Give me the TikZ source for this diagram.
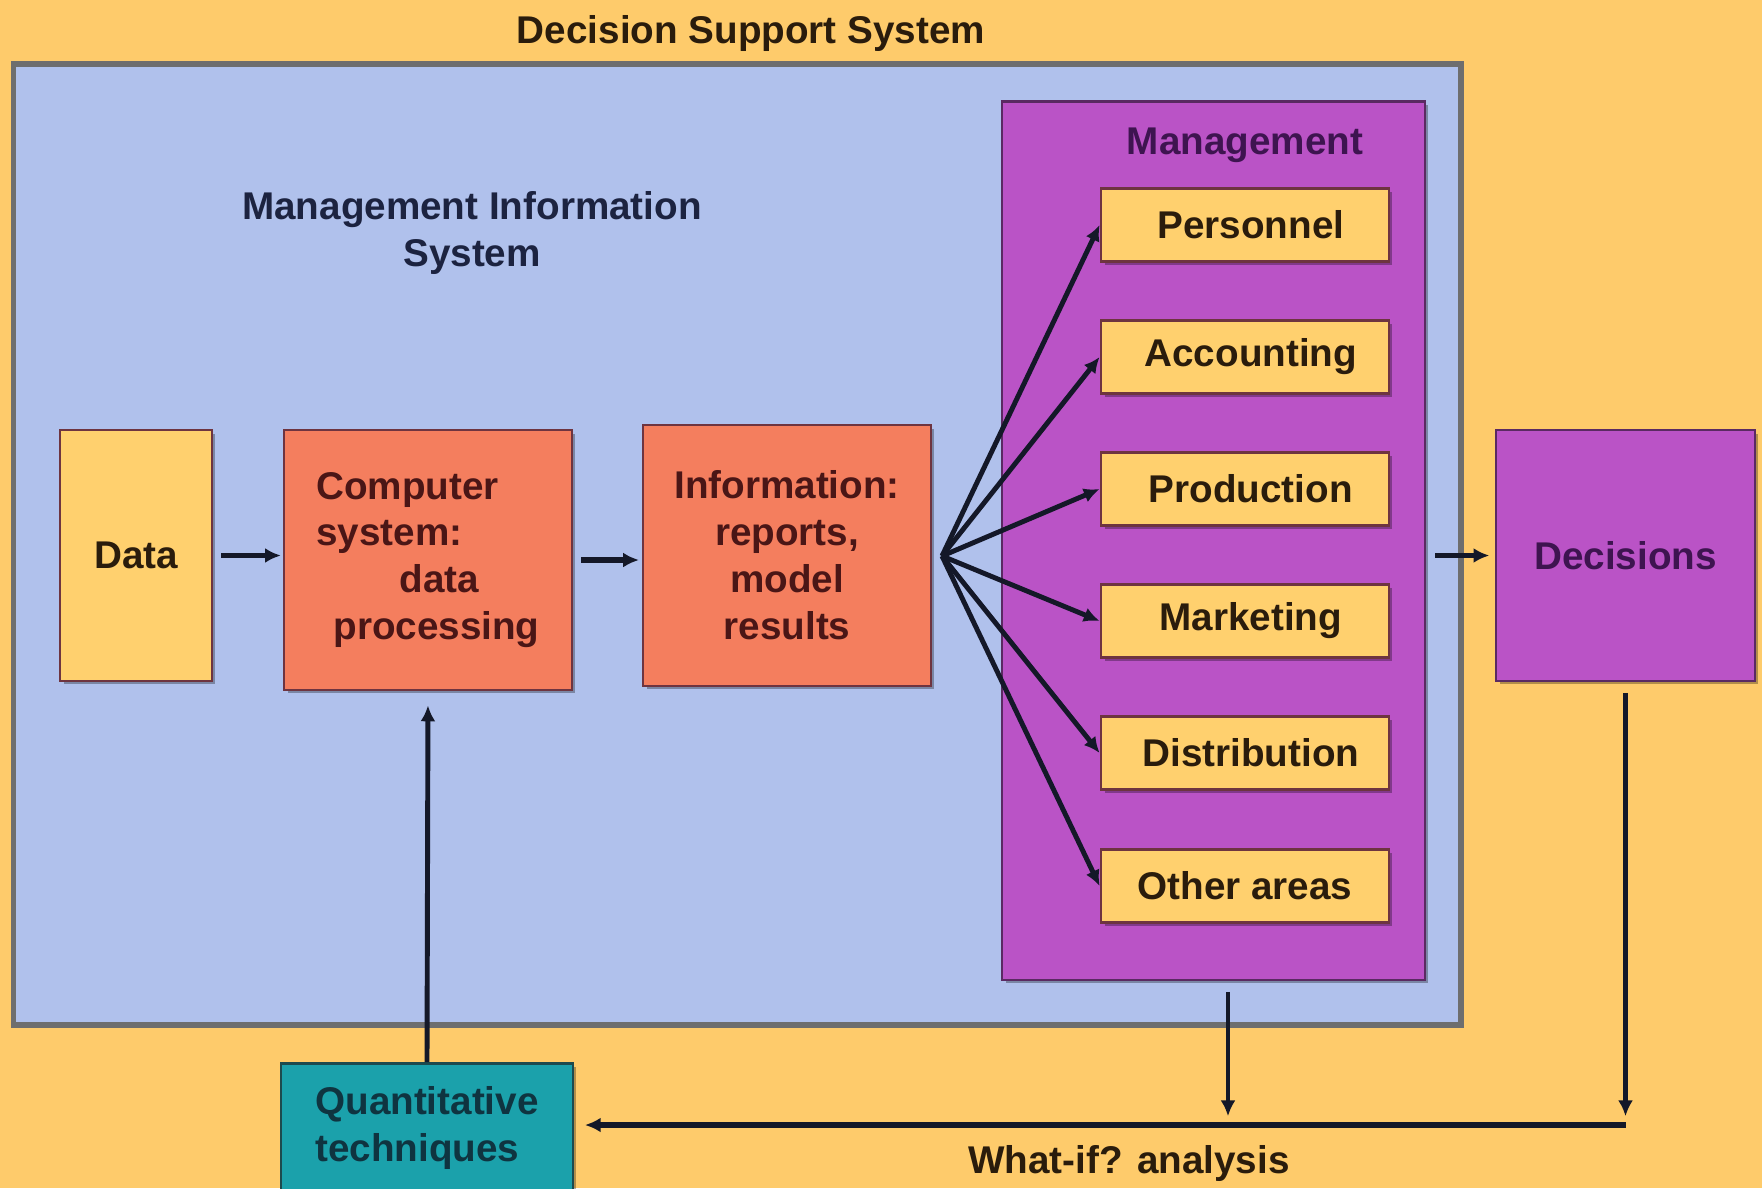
\documentclass[tikz,border=0pt]{standalone}
\usepackage{fontspec}
\setmainfont{Liberation Sans}
\usetikzlibrary{arrows.meta,shadows}
\definecolor{dssorange}{HTML}{FECB6B}
\definecolor{misblue}{HTML}{B0C1EC}
\definecolor{misedge}{HTML}{6E6E6E}
\definecolor{mgmtpurple}{HTML}{BA53C6}
\definecolor{mgmtedge}{HTML}{5A2A62}
\definecolor{boxyellow}{HTML}{FFD06E}
\definecolor{boxedge}{HTML}{6E3440}
\definecolor{boxsalmon}{HTML}{F47E5E}
\definecolor{quantteal}{HTML}{1BA1AB}
\definecolor{tealedge}{HTML}{1D4A4E}
\definecolor{arrowink}{HTML}{141828}
\definecolor{darkink}{HTML}{2A1C0C}
\definecolor{redink}{HTML}{4A1616}
\definecolor{purpleink}{HTML}{3E1450}
\definecolor{navyink}{HTML}{1C2340}
\definecolor{tealink}{HTML}{0F3440}
\begin{document}
\begin{tikzpicture}[x=0.02cm,y=-0.02cm,
    every node/.style={font=\fontsize{22}{26.7}\selectfont\bfseries},
    box/.style={draw=boxedge,line width=1.6pt,inner sep=0pt,
      drop shadow={shadow xshift=0.07cm,shadow yshift=-0.07cm,fill=black,opacity=.3}},
    area/.style={box,fill=boxyellow,text=darkink,minimum width=5.76cm,minimum height=1.46cm},
    link/.style={arrowink,line width=2.8pt,-{Latex[length=9pt,width=8.5pt]}}]
  \fill[dssorange] (0,0) rectangle (1762,1188);
  \useasboundingbox (0,0) rectangle (1762,1188);
  \node[text=darkink] (dss) at (751,33) {Decision Support System};
  \node[box,draw=misedge,line width=3pt,fill=misblue,minimum width=28.96cm,minimum height=19.22cm] (mis) at (737,544.5) {};
  \node[text=navyink,align=center] (mislabel) at (472,233) {Management Information\\System};
  \node[box,draw=mgmtedge,fill=mgmtpurple,minimum width=8.46cm,minimum height=17.58cm] (mgmt) at (1213.5,540.5) {};
  \node[text=purpleink] (mgmtlabel) at (1245,145) {Management};
  \node[area] (pers) at (1245,225) {\hspace*{.3em}Personnel};
  \node[area] (acct) at (1245,357) {\hspace*{.3em}Accounting};
  \node[area] (prod) at (1245,489) {\hspace*{.3em}Production};
  \node[area] (mark) at (1245,621) {\hspace*{.3em}Marketing};
  \node[area] (dist) at (1245,753) {\hspace*{.3em}Distribution};
  \node[area] (other) at (1245,886) {Other areas};
  \node[box,fill=boxyellow,text=darkink,minimum width=3.04cm,minimum height=5.02cm] (data) at (136,555.5) {Data};
  \node[box,fill=boxsalmon,text=redink,align=left,minimum width=5.76cm,minimum height=5.2cm] (comp) at (428,560)
    {Computer\\system:\\\hspace*{2.15em}data\\\hspace*{.44em}processing};
  \node[box,fill=boxsalmon,text=redink,align=center,minimum width=5.76cm,minimum height=5.22cm] (info) at (787,555.5)
    {Information:\\reports,\\model\\results};
  \node[box,draw=mgmtedge,fill=mgmtpurple,text=purpleink,minimum width=5.18cm,minimum height=5.02cm] (dec) at (1625.5,555.5) {Decisions};
  \node[box,draw=tealedge,fill=quantteal,text=tealink,align=left,anchor=north,minimum width=5.84cm,minimum height=2.6cm] (quant) at (427,1062)
    {Quantitative\\techniques};
  \node[text=darkink] (whatif) at (1129,1163) {What-if? analysis};
  \coordinate (fan) at (942,556);
  \coordinate (wa) at (1228,1125);
  \coordinate (wb) at (dec.south |- wa);
  \begin{scope}[link]
    \draw[line width=3.2pt,shorten <=4.5pt,shorten >=1pt] (data.east) -- (data.east -| comp.west);
    \draw[line width=3.2pt,shorten <=4.5pt,shorten >=1.5pt] (comp.east) -- (comp.east -| info.west);
    \foreach \n in {pers,acct,prod,mark,dist,other}
      \draw (fan) -- (\n.west);
    \draw[line width=3.2pt,shorten <=5pt,shorten >=3pt] (dec.west -| mgmt.east) -- (dec.west);
    \draw[shorten <=6pt,shorten >=5pt] (mgmt.south -| wa) -- (wa);
    \draw[shorten <=6pt,shorten >=5pt] (dec.south) -- (wb);
    \draw[line width=3.4pt,shorten >=6pt] (wb) -- (wb -| quant.east);
    \draw[shorten >=8pt] (quant.north) -- (comp.south);
  \end{scope}
\end{tikzpicture}
\end{document}
